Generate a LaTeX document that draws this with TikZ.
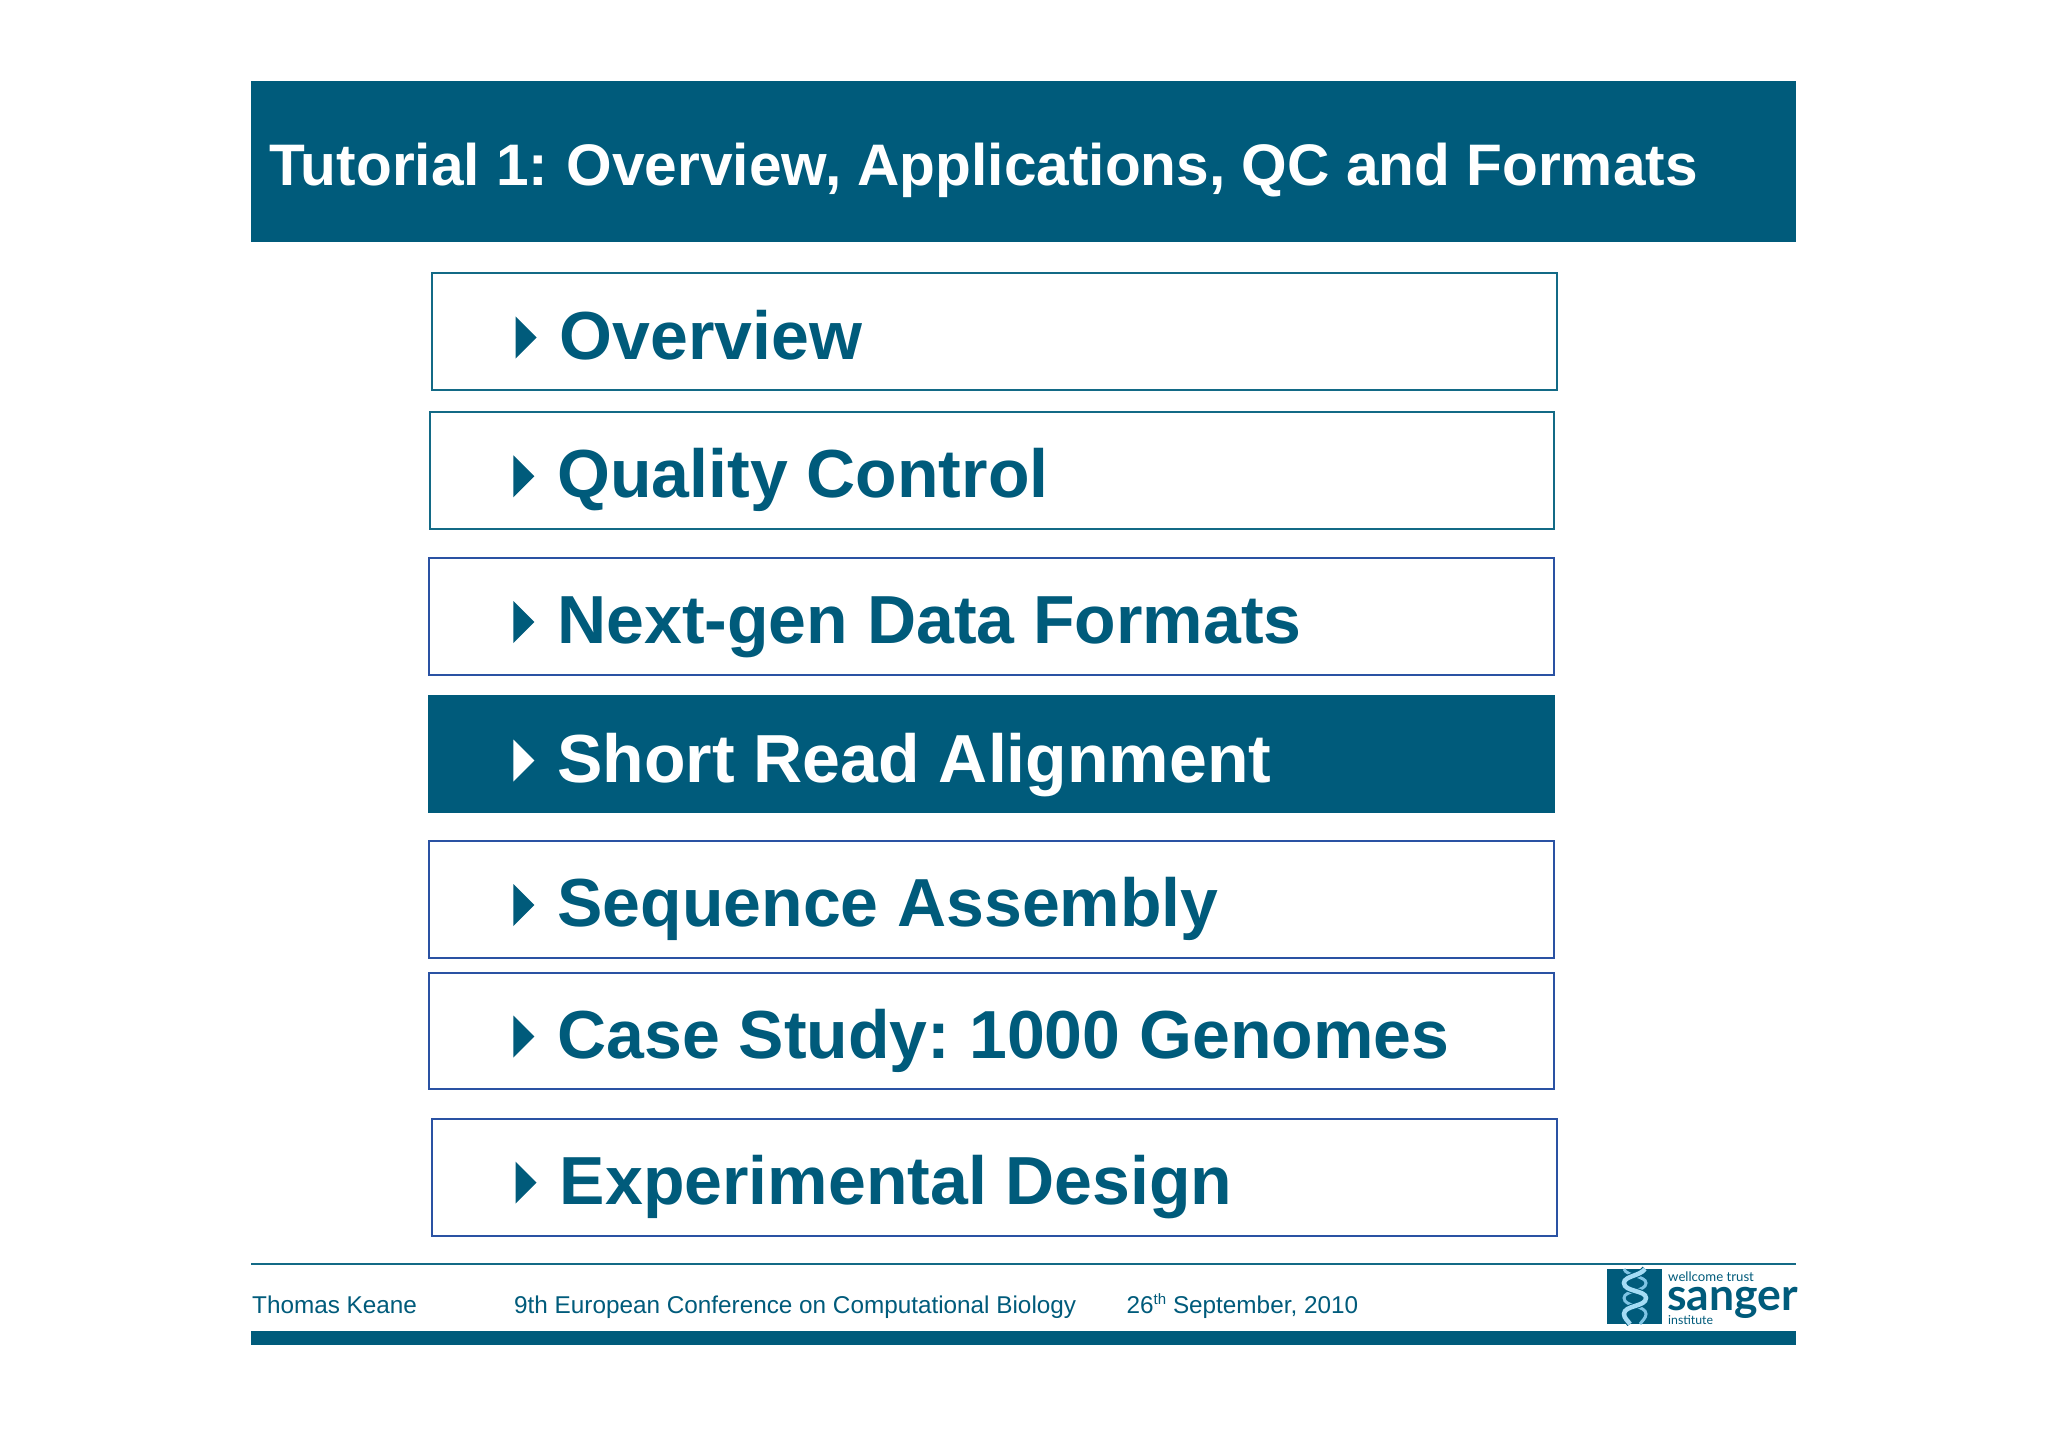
\documentclass[tikz,border=0pt]{standalone}
\usepackage{fontspec}
\setmainfont{Liberation Sans}
\newfontfamily\logofont{Lato}
\definecolor{teal}{HTML}{005B7B}
\definecolor{edgeA}{HTML}{136A86}
\definecolor{edgeB}{HTML}{2A52A3}
\definecolor{helix}{HTML}{A5DCF5}
\definecolor{helixb}{HTML}{7FC4E4}
\tikzset{
  itembox/.style={draw=edgeA,line width=2pt,fill=white,anchor=north west,inner sep=0pt,minimum width=1124.6pt,minimum height=116.8pt},
  itemboxb/.style={itembox,draw=edgeB},
  itemfull/.style={itembox,draw=teal,fill=teal},
  itemtext/.style={anchor=base west,inner sep=0pt,font=\fontsize{68}{68}\selectfont\bfseries,text=teal},
  foot/.style={anchor=base west,inner sep=0pt,font=\fontsize{24.3}{24.3}\selectfont,text=teal},
}
\newcommand{\tribul}[3]{\fill[#3] (#1,#2-42) -- (#1+21,#2-21) -- (#1,#2) -- cycle;}
\frenchspacing
\begin{document}
\begin{tikzpicture}[x=1pt,y=-1pt]
\useasboundingbox (0,0) rectangle (2048,1447);
\fill[white] (0,0) rectangle (2048,1447);
% header
\node (head) [fill=teal,anchor=north west,inner sep=0pt,minimum width=1544.8pt,minimum height=161pt] at (251.2,81) {};
\node (title) [anchor=base west,inner sep=0pt,font=\fontsize{58.6}{58.6}\selectfont\bfseries,text=white] at (269.3,186) {Tutorial 1:\hspace{2pt} Overview, Applications, QC and Formats};
% boxes
\node (b1) [itembox]  at (431,272.5) {};
\node (b2) [itembox]  at (428.8,411) {};
\node (b3) [itemboxb] at (428.3,556.9) {};
\node (b4) [itemfull] at (428.3,694.5) {};
\node (b5) [itemboxb] at (428.3,840.4) {};
\node (b6) [itemboxb] at (428.3,971.6) {};
\node (b7) [itemboxb] at (431,1117.7) {};
% bullets
\tribul{515.5}{358.5}{teal}
\tribul{513.3}{497.3}{teal}
\tribul{513.3}{643}{teal}
\tribul{513.3}{781.5}{white}
\tribul{513.3}{926}{teal}
\tribul{513.3}{1057.5}{teal}
\tribul{515.5}{1203.5}{teal}
% labels
\node (t1) [itemtext] at (559.7,359.3) {Overview};
\node (t2) [itemtext] at (557.2,497.7) {Quality Control};
\node (t3) [itemtext] at (557.2,643.6) {Next-gen Data Formats};
\node (t4) [itemtext,text=white] at (557.2,782.3) {Short Read Alignment};
\node (t5) [itemtext] at (557.2,926.7) {Sequence Assembly};
\node (t6) [itemtext] at (557.2,1058.3) {Case Study: 1000 Genomes};
\node (t7) [itemtext] at (559.7,1204.3) {Experimental Design};
% footer
\fill[edgeA] (251.2,1263) rectangle (1796,1265);
\fill[teal] (251.2,1331) rectangle (1796,1345);
\node (f1) [foot] at (252,1313.5) {Thomas Keane};
\node (f2) [foot] at (514,1313.5) {9th European Conference on Computational Biology};
\node (f3) [foot] at (1126.5,1313.5) {26\raisebox{9pt}{\fontsize{15}{15}\selectfont th} September, 2010};
% logo
\fill[teal] (1607,1269) rectangle (1662,1324);
\draw[helixb,line width=3pt] (1624,1269) .. controls (1626,1276) and (1646,1276) .. (1646,1283) .. controls (1646,1292) and (1624,1290) .. (1624,1298) .. controls (1624,1307) and (1646,1305) .. (1646,1314) .. controls (1646,1318) and (1642,1321) .. (1640,1324);
\draw[teal,line width=6.5pt] (1645,1269) .. controls (1640,1276) and (1624,1276) .. (1624,1283) .. controls (1624,1292) and (1646,1290) .. (1646,1298) .. controls (1646,1307) and (1624,1305) .. (1624,1314) .. controls (1624,1318) and (1628,1321) .. (1630,1324);
\draw[helix,line width=4.5pt] (1645,1269) .. controls (1640,1276) and (1624,1276) .. (1624,1283) .. controls (1624,1292) and (1646,1290) .. (1646,1298) .. controls (1646,1307) and (1624,1305) .. (1624,1314) .. controls (1624,1318) and (1628,1321) .. (1630,1324);
\node (l1) [anchor=base west,inner sep=0pt,font=\logofont\fontsize{13.2}{13.2}\selectfont,text=teal] at (1668,1281) {wellcome trust};
\node (l2) [anchor=base west,inner sep=0pt,font=\logofont\fontsize{44.5}{44.5}\selectfont\bfseries,text=teal] at (1667,1310) {sanger};
\node (l3) [anchor=base west,inner sep=0pt,font=\logofont\fontsize{12.3}{12.3}\selectfont,text=teal] at (1668,1324) {institute};
\end{tikzpicture}
\end{document}
